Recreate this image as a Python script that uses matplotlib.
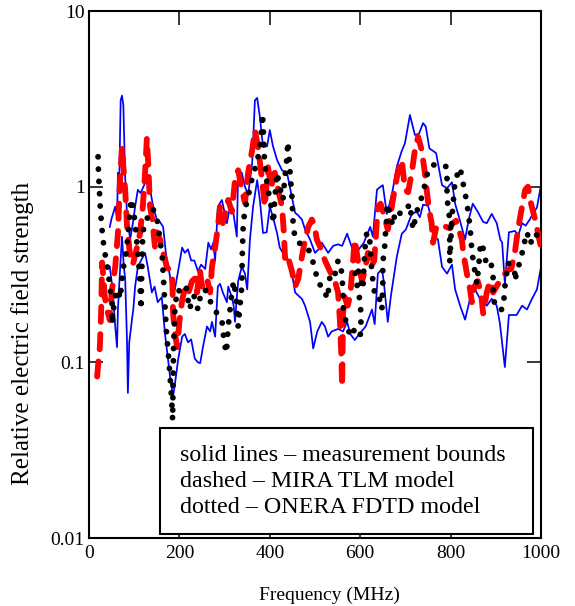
import numpy as np
import matplotlib
matplotlib.use("Agg")
import matplotlib.pyplot as plt
from matplotlib.patches import Rectangle

# measurement bounds (upper / lower), MHz vs relative field strength
meas_hi = [(46, 0.59), (50, 0.66), (58, 0.77), (62, 0.66), (64, 1.2), (67, 1.1), (70, 3.1),
           (73, 3.3), (76, 2.9), (80, 1.13), (84, 0.7), (91, 0.5), (97, 0.62), (102, 0.77),
           (108, 0.96), (114, 0.92), (122, 1.02), (128, 1.13), (134, 1.0), (142, 0.77),
           (150, 0.65), (157, 0.63), (164, 0.59), (170, 0.42), (179, 0.31), (184, 0.235),
           (190, 0.26), (197, 0.33), (206, 0.45), (212, 0.42), (219, 0.44), (226, 0.38),
           (233, 0.38), (241, 0.33), (248, 0.36), (257, 0.34), (264, 0.48), (270, 0.44),
           (275, 0.48), (279, 0.38), (285, 0.77), (294, 0.84), (305, 0.62), (312, 0.77),
           (318, 0.75), (327, 0.52), (330, 1.24), (338, 1.2), (345, 1.0), (352, 0.9),
           (361, 1.36), (367, 3.1), (372, 3.2), (378, 2.5), (385, 1.68), (394, 1.7),
           (400, 2.1), (407, 1.7), (416, 1.42), (427, 1.24), (438, 1.2), (449, 0.87),
           (456, 0.71), (462, 0.69), (471, 0.65), (478, 0.57), (489, 0.5), (500, 0.42),
           (508, 0.44), (515, 0.48), (522, 0.45), (529, 0.42), (540, 0.46), (551, 0.47),
           (560, 0.46), (571, 0.54), (578, 0.48), (588, 0.40), (597, 0.44), (608, 0.48),
           (622, 0.59), (628, 0.52), (637, 0.96), (645, 1.0), (650, 1.02), (659, 0.7),
           (665, 0.8), (672, 0.96), (681, 1.3), (692, 1.6), (699, 1.77), (710, 2.56),
           (721, 1.97), (730, 2.0), (739, 2.3), (745, 2.2), (753, 1.65), (761, 1.6),
           (768, 1.55), (781, 1.02), (792, 0.98), (803, 1.06), (810, 0.8), (820, 0.65),
           (832, 0.5), (840, 0.65), (849, 0.8), (860, 0.72), (872, 0.63), (880, 0.62),
           (891, 0.7), (902, 0.62), (910, 0.5), (914, 0.48), (920, 0.28), (929, 0.55),
           (942, 0.56), (950, 0.53), (958, 0.62), (966, 0.6), (975, 0.65), (985, 0.72),
           (991, 0.76), (998, 0.96), (1000, 1.0)]

meas_lo = [(46, 0.35), (53, 0.25), (58, 0.16), (62, 0.122), (64, 0.2), (69, 0.35), (73, 0.52),
           (77, 0.35), (80, 0.3), (84, 0.134), (86, 0.067), (89, 0.13), (95, 0.175), (98, 0.2),
           (102, 0.27), (108, 0.35), (115, 0.38), (124, 0.42), (130, 0.35), (139, 0.25),
           (145, 0.27), (152, 0.22), (161, 0.235), (168, 0.146), (175, 0.103), (180, 0.08),
           (186, 0.064), (190, 0.075), (197, 0.103), (206, 0.14), (212, 0.145), (219, 0.13),
           (226, 0.135), (234, 0.105), (241, 0.1), (246, 0.099), (252, 0.122), (261, 0.16),
           (268, 0.15), (272, 0.17), (279, 0.14), (285, 0.27), (290, 0.28), (296, 0.25),
           (305, 0.22), (308, 0.27), (316, 0.235), (320, 0.21), (323, 0.17), (327, 0.235),
           (330, 0.29), (338, 0.35), (345, 0.32), (350, 0.26), (356, 0.5), (363, 0.77),
           (372, 1.09), (378, 0.84), (385, 0.545), (393, 0.55), (400, 0.77), (407, 0.67),
           (416, 0.545), (422, 0.45), (429, 0.42), (445, 0.37), (456, 0.25), (463, 0.24),
           (471, 0.23), (478, 0.21), (489, 0.17), (496, 0.12), (505, 0.15), (515, 0.17),
           (522, 0.16), (529, 0.14), (537, 0.15), (551, 0.155), (562, 0.15), (571, 0.17),
           (578, 0.145), (588, 0.134), (598, 0.145), (612, 0.16), (626, 0.2), (632, 0.165),
           (639, 0.32), (648, 0.34), (652, 0.29), (661, 0.17), (668, 0.24), (681, 0.40),
           (692, 0.54), (701, 0.57), (714, 0.70), (725, 0.72), (732, 0.67), (739, 0.79),
           (750, 0.78), (758, 0.65), (765, 0.52), (772, 0.5), (781, 0.35), (792, 0.32),
           (803, 0.36), (810, 0.26), (821, 0.21), (832, 0.175), (843, 0.23), (849, 0.275),
           (865, 0.23), (880, 0.21), (891, 0.23), (902, 0.21), (909, 0.167), (920, 0.094),
           (929, 0.186), (946, 0.186), (958, 0.21), (969, 0.2), (980, 0.23), (991, 0.26),
           (1000, 0.35)]

# MIRA TLM model (dashed)
mira = [(18, 0.083), (22, 0.11), (24, 0.122), (27, 0.2), (29, 0.37), (32, 0.3), (35, 0.235),
        (40, 0.2), (46, 0.174), (50, 0.25), (58, 0.35), (64, 0.545), (68, 1.0), (73, 1.68),
        (76, 1.3), (80, 0.96), (84, 0.6), (91, 0.40), (97, 0.36), (106, 0.45), (113, 0.545),
        (119, 0.77), (124, 1.2), (128, 1.89), (131, 1.36), (135, 0.77), (140, 0.65),
        (146, 0.45), (150, 0.55), (157, 0.5), (164, 0.42), (172, 0.35), (184, 0.32),
        (186, 0.19), (190, 0.147), (195, 0.122), (200, 0.17), (206, 0.226), (213, 0.27),
        (220, 0.25), (228, 0.29), (234, 0.3), (239, 0.25), (245, 0.34), (250, 0.27),
        (261, 0.3), (268, 0.25), (272, 0.35), (279, 0.45), (285, 0.59), (290, 0.77),
        (296, 0.62), (308, 0.84), (316, 0.72), (323, 1.09), (330, 1.24), (338, 0.96),
        (345, 0.81), (352, 1.2), (361, 1.62), (367, 2.1), (374, 1.68), (381, 1.2),
        (389, 0.77), (396, 1.29), (403, 1.0), (411, 1.2), (419, 0.95), (427, 0.77),
        (431, 0.55), (434, 0.38), (440, 0.4), (449, 0.33), (456, 0.27), (463, 0.3),
        (471, 0.4), (478, 0.5), (485, 0.59), (493, 0.65), (499, 0.6), (504, 0.5),
        (512, 0.45), (522, 0.38), (533, 0.33), (544, 0.29), (551, 0.25), (555, 0.174),
        (558, 0.113), (560, 0.073), (562, 0.19), (566, 0.235), (572, 0.21), (578, 0.24),
        (583, 0.35), (588, 0.5), (595, 0.38), (604, 0.29), (610, 0.33), (617, 0.42),
        (624, 0.35), (631, 0.38), (639, 0.77), (645, 0.8), (652, 0.7), (661, 0.57),
        (670, 0.77), (676, 0.96), (683, 1.2), (692, 1.42), (699, 0.96), (706, 0.93),
        (714, 1.2), (721, 1.62), (728, 1.92), (736, 1.62), (743, 1.2), (747, 0.96),
        (752, 0.75), (758, 0.62), (761, 0.48), (769, 0.6), (783, 0.6), (798, 0.58),
        (805, 0.62), (812, 0.64), (825, 0.5), (828, 0.42), (836, 0.32), (843, 0.26),
        (847, 0.22), (853, 0.27), (860, 0.29), (867, 0.25), (872, 0.19), (880, 0.25),
        (887, 0.29), (894, 0.25), (905, 0.28), (914, 0.3), (925, 0.335), (934, 0.34),
        (942, 0.42), (949, 0.57), (958, 0.77), (965, 0.96), (971, 1.0), (978, 0.8),
        (987, 0.65), (993, 0.55), (1000, 0.45)]

# ONERA FDTD model (dotted)
onera = [(20, 1.48), (21, 1.2), (23, 0.95), (25, 0.75), (28, 0.6), (31, 0.5), (35, 0.42),
         (40, 0.36), (44, 0.3), (47, 0.26), (51, 0.22), (51, 0.165), (55, 0.21), (60, 0.25),
         (64, 0.26), (69, 0.23), (73, 0.3), (77, 0.36), (82, 0.42), (86, 0.52), (89, 0.65),
         (93, 0.85), (97, 0.78), (102, 0.62), (106, 0.48), (110, 0.37), (113, 0.28),
         (115, 0.2), (117, 0.35), (119, 0.55), (125, 0.64), (132, 0.68), (140, 0.75),
         (146, 0.72), (152, 0.62), (157, 0.5), (162, 0.4), (164, 0.32), (166, 0.26),
         (168, 0.21), (170, 0.17), (172, 0.14), (175, 0.117), (177, 0.1), (179, 0.085),
         (181, 0.072), (183, 0.06), (185, 0.047), (187, 0.12), (190, 0.2), (195, 0.26),
         (205, 0.25), (215, 0.27), (222, 0.2), (232, 0.24), (241, 0.2), (248, 0.25),
         (257, 0.26), (265, 0.23), (274, 0.21), (283, 0.19), (294, 0.174), (299, 0.13),
         (304, 0.113), (308, 0.16), (312, 0.2), (316, 0.25), (320, 0.29), (325, 0.24),
         (328, 0.19), (330, 0.16), (334, 0.21), (338, 0.27), (339, 0.4), (341, 0.59),
         (345, 0.75), (352, 0.86), (356, 1.0), (363, 1.16), (372, 1.4), (378, 1.66),
         (381, 2.0), (384, 2.6), (386, 2.0), (388, 1.47), (391, 1.2), (395, 1.0),
         (400, 0.85), (405, 0.72), (408, 0.62), (411, 0.85), (416, 1.2), (422, 1.0),
         (429, 0.84), (433, 1.1), (437, 1.4), (440, 1.8), (443, 1.4), (446, 1.1),
         (449, 0.87), (451, 0.65), (455, 0.52), (462, 0.48), (473, 0.47), (484, 0.45),
         (492, 0.4), (500, 0.34), (507, 0.28), (518, 0.27), (527, 0.23), (531, 0.27),
         (533, 0.31), (542, 0.3), (548, 0.35), (551, 0.38), (557, 0.36), (560, 0.3),
         (562, 0.25), (562, 0.21), (566, 0.18), (572, 0.16), (577, 0.143), (584, 0.155),
         (593, 0.14), (600, 0.14), (602, 0.18), (600, 0.22), (595, 0.26), (590, 0.3),
         (588, 0.35), (596, 0.33), (606, 0.26), (608, 0.34), (610, 0.42), (612, 0.5),
         (615, 0.55), (621, 0.5), (626, 0.32), (630, 0.27), (633, 0.235), (641, 0.235),
         (645, 0.22), (648, 0.2), (650, 0.28), (650, 0.37), (654, 0.45), (655, 0.51),
         (657, 0.58), (659, 0.67), (659, 0.8), (665, 0.72), (672, 0.6), (677, 0.71),
         (684, 0.68), (690, 0.72), (699, 0.72), (710, 0.8), (713, 0.68), (717, 0.57),
         (725, 0.72), (736, 0.87), (742, 1.0), (746, 1.1), (750, 1.24), (761, 1.33),
         (772, 1.33), (783, 1.33), (790, 1.3), (792, 1.14), (792, 0.95), (793, 0.82),
         (796, 0.72), (800, 0.58), (798, 0.51), (798, 0.44), (798, 0.37), (803, 0.67),
         (810, 1.09), (821, 1.28), (829, 1.0), (836, 0.81), (843, 0.59), (847, 0.43),
         (852, 0.35), (858, 0.28), (862, 0.35), (865, 0.44), (869, 0.48), (876, 0.4),
         (880, 0.35), (890, 0.36), (894, 0.31), (894, 0.23), (903, 0.2), (914, 0.2),
         (918, 0.23), (920, 0.27), (924, 0.32), (927, 0.37), (935, 0.34), (942, 0.33),
         (942, 0.29), (948, 0.34), (953, 0.37), (958, 0.41), (960, 0.48), (965, 0.49),
         (969, 0.55), (976, 0.47), (980, 0.5), (987, 0.545), (993, 0.52), (998, 0.59)]

x_ticks = [0, 200, 400, 600, 800, 1000]
y_ticks = [0.01, 0.1, 1, 10]
y_tick_labels = ["0.01", "0.1", "1", "10"]
legend_lines = ["solid lines \u2013 measurement bounds",
                "dashed \u2013 MIRA TLM model",
                "dotted \u2013 ONERA FDTD model"]

plt.rcParams['font.family'] = ['Liberation Serif', 'DejaVu Serif']

fig = plt.figure(figsize=(5.75, 6.06), dpi=100)
ax = fig.add_axes([0.1548, 0.1122, 0.7861, 0.8696])

for series in (meas_hi, meas_lo):
    a = np.array(series)
    ax.plot(a[:, 0], a[:, 1], color='#0000ff', lw=1.25, zorder=2)

a = np.array(mira)
ax.plot(a[:, 0], a[:, 1], color='#ff0000', lw=4.2, linestyle=(0, (2.6, 2.1)),
        dash_capstyle='round', zorder=3)

a = np.array(onera)
ax.plot(a[:, 0], a[:, 1], color='black', lw=4.2, linestyle=(0, (0.01, 2.1)),
        dash_capstyle='round', zorder=4)

ax.set_yscale('log')
ax.set_xlim(0, 1000)
ax.set_ylim(0.01, 10)
ax.set_xticks(x_ticks)
ax.set_yticks(y_ticks, y_tick_labels)
ax.minorticks_off()
ax.tick_params(direction='in', length=10, width=1.1, labelsize=14,
               top=True, right=True, pad=5)
ax.tick_params(axis='y', pad=3)
for sp in ax.spines.values():
    sp.set_linewidth(1.5)

ax.set_xlabel("Frequency (MHz)", fontsize=14)
ax.xaxis.set_label_coords(0.533, -0.092)
ax.set_ylabel("Relative electric field strength", fontsize=18)
ax.yaxis.set_label_coords(-0.122, 0.389)

ax.add_patch(Rectangle((0.157, 0.0076), 0.825, 0.2015, transform=ax.transAxes,
                       facecolor='white', edgecolor='black', lw=1.5, zorder=5))
ax.text(0.201, 0.107, "\n".join(legend_lines), transform=ax.transAxes,
        fontsize=17.3, va='center', ha='left', linespacing=1.33, zorder=6)

fig.savefig("out.png", dpi=100)
